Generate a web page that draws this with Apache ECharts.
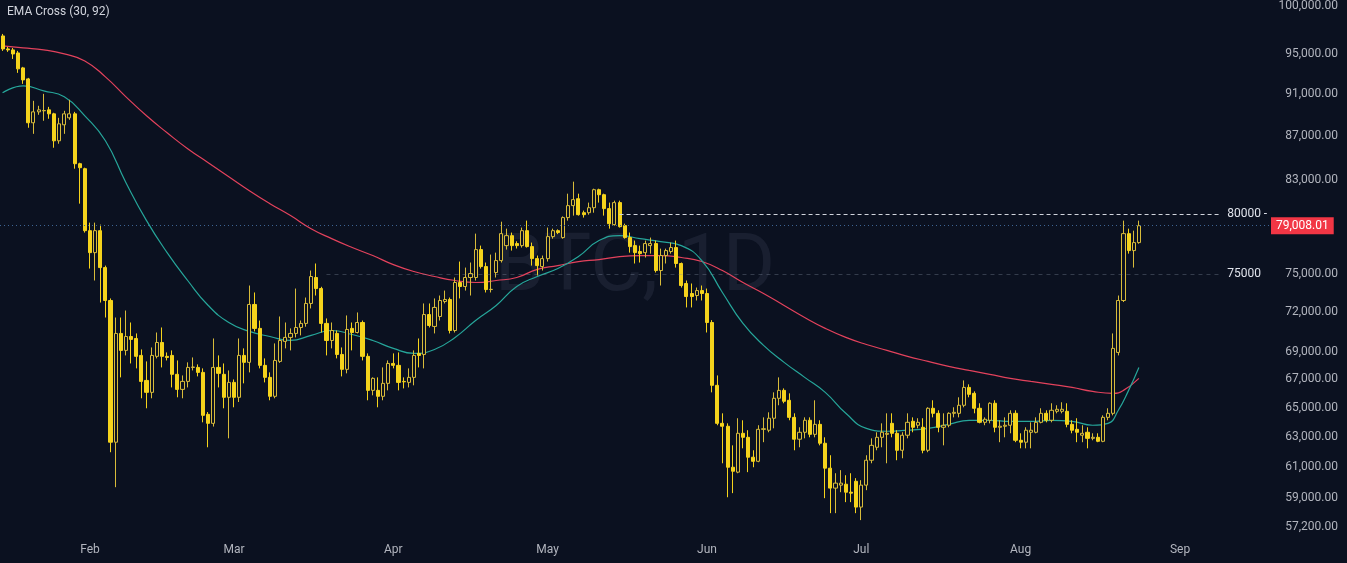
<!DOCTYPE html>
<html><head><meta charset="utf-8">
<script src="https://cdn.jsdelivr.net/npm/echarts@6/dist/echarts.min.js"></script>
<style>html,body{margin:0;padding:0;background:#0b1120;}#c{width:1347px;height:563px;}</style>
</head><body><div id="c"></div><script>
const startDate = '2026-01-15';
const dayCount = 247;
const monthNames = ['Jan','Feb','Mar','Apr','May','Jun','Jul','Aug','Sep','Oct','Nov','Dec'];
const yTicks = [57200, 59000, 61000, 63000, 65000, 67000, 69000, 72000, 75000, 83000, 87000, 91000, 95000, 100000];
const lastPrice = 79008.01;
const levelHigh = 80000;
const levelLow = 75000;
// [open, close, low, high]
const candles = [
[96840,95500,95300,97050],[95500,95400,95200,95700],[95400,94990,94480,95600],[95090,93480,93080,95300],
[93580,92380,91990,93680],[92480,88230,87760,92580],[88230,89270,87190,90330],[89270,89460,88990,89850],
[89370,89400,88420,91010],[89460,89080,88610,89750],[89080,86540,85900,89180],[86540,88130,86270,88700],
[88040,89080,87190,89370],[88700,89080,88510,90430],[89080,84440,83990,89270],[84440,84080,80900,84530],
[83990,78590,78430,84080],[78590,76760,75460,79270],[76760,78590,74500,79270],[78590,75540,72760,79100],
[75540,72920,71600,75700],[72920,62640,61970,73080],[62640,70390,59690,71600],[70390,69120,67150,71600],
[69120,70160,68750,72140],[70160,69940,68160,71220],[70010,68680,67800,70390],[68750,66860,65660,69190],
[66930,66080,64960,68310],[66080,68750,65660,69340],[68680,69710,68530,70460],[69710,68680,67870,70840],
[68680,68600,68380,68970],[68750,67370,66430,69120],[67370,66290,65730,68380],[66290,66860,65660,67290],
[66860,67870,66430,68240],[67870,67900,67650,68600],[67870,67510,67220,68090],[67510,64470,63990,67800],
[64540,63920,62300,64700],[63920,67870,63700,70010],[67870,67440,66430,68750],[67370,65730,64960,68160],
[65730,66790,62900,67650],[66790,65730,65030,67000],[65730,68750,65400,70010],[68750,68240,66720,69270],
[68240,72610,67510,74100],[72610,70770,70540,73550],[70770,68020,67800,71370],[68020,67150,66790,68530],
[67150,65800,65520,67510],[65800,68380,65660,69640],[68310,69860,68200,71680],[69790,70090,69270,71220],
[70090,70390,69120,70770],[70390,70840,70090,73860],[70840,71150,70240,71370],[71150,72690,70900,73150],
[72690,74820,72300,75300],[74740,73860,73310,75870],[73860,71150,70460,74000],[71150,69860,68750,71530],
[69860,70610,69270,71220],[70390,68820,68530,70610],[68820,67730,67220,69340],[67730,70690,67440,71760],
[70770,70460,69120,71220],[70460,71220,70390,71990],[71220,68680,68380,71370],[68680,66220,65520,68900],
[66220,67080,65870,67150],[66220,65800,65030,67150],[65800,66720,65520,67870],[66720,68160,66220,68380],
[68160,68020,67800,68900],[68020,66790,66220,68970],[66860,66830,66360,67150],[66790,67150,66430,67800],
[67150,68750,66580,69120],[68900,68750,67870,70010],[68820,71830,67800,72690],[71830,70990,70840,72690],
[70920,72380,70390,73080],[71680,72920,71370,73310],[72840,73000,72690,73700],[73000,70610,70390,73150],
[70610,74340,70460,74740],[74340,74020,73080,76030],[74020,74740,73700,75540],[74740,75060,73310,75950],
[74740,77010,74500,78340],[77010,75620,75460,77340],[75620,73780,73550,75950],[73780,73800,73550,76600],
[75140,76110,74740,76760],[76110,78340,75950,79350],[77340,78170,77010,78760],[78170,77340,76930,78430],
[77510,77340,77100,77700],[77340,78590,77180,78850],[78590,77260,77180,79440],[77260,76270,75700,77590],
[76270,75700,74900,76520],[75620,76270,75300,76520],[76270,78090,76030,78850],[78090,78590,77920,78760],
[78590,78430,78300,78700],[78010,79700,77920,79800],[79700,80730,79440,81770],[80730,81250,79870,82830],
[81330,79950,79870,81770],[80120,79950,79700,80300],[80120,80550,79950,80990],[80550,82120,80120,82210],
[82120,81680,80990,82210],[81680,80470,79870,81770],[80470,79180,78760,80990],[79100,80990,79020,81160],
[80990,78930,78850,81160],[79020,78010,77920,79180],[78010,77260,76760,78430],[77340,76760,75870,77760],
[76850,76680,75950,77340],[76760,77510,76360,77760],[77340,77510,76680,78010],[77510,75300,75140,77760],
[75300,76520,74100,77090],[76520,76930,75870,77090],[76850,77180,76680,77590],[77180,75870,75540,77760],
[75870,74100,73940,75950],[74260,73230,72380,74500],[73470,73230,72380,74260],[73310,73700,72920,73940],
[73700,73470,72920,74100],[73470,71220,70460,73860],[71220,66580,66080,71400],[66580,63920,63790,67290],
[63920,63720,61240,64610],[63720,60980,59050,63920],[60980,60720,59310,62430],[60660,63240,60590,64270],
[63240,62970,62230,64130],[62970,61640,60660,63450],[61640,61370,60980,62100],[61370,63510,61310,63790],
[63510,63550,62640,64330],[63450,64270,63310,64680],[64270,65660,63580,66080],[65660,66220,65170,67150],
[66220,65450,65310,66360],[65520,64330,64130,66010],[64330,62840,62100,64610],[62840,63310,62300,63650],
[63310,64130,62900,64330],[64130,63170,62970,64330],[63170,63850,62970,65520],[63850,62570,62430,64130],
[62570,60920,58990,62970],[60920,59630,58050,61770],[59630,59950,58050,60590],[59820,59950,59370,60790],
[59880,59370,58740,60460],[59370,59310,58740,60590],[60070,58430,58050,60270],[58430,59820,57620,60140],
[59820,61440,59500,61770],[61440,62430,61240,62900],[62300,62970,62100,63310],[62970,63310,62300,63920],
[63170,63240,61240,64610],[63920,63240,62970,64610],[63240,62100,61440,63450],[62100,63110,61570,63310],
[63110,63990,62900,64610],[64060,63650,63310,64330],[63790,63990,63580,64270],[63650,62100,61900,64270],
[62100,64960,61970,65030],[64960,64610,64330,65520],[64610,63650,63310,64820],[63650,63790,62430,64610],
[63790,64610,63650,64680],[64610,64680,64330,65030],[64610,65170,64330,65730],[65170,66430,65030,66930],
[66430,65940,65730,66650],[66010,64960,64610,66150],[64960,63990,63920,65310],[63990,64200,63790,64330],
[64130,65310,63920,65380],[65310,63650,63310,65520],[63650,63720,62640,64130],[63720,63790,62970,64330],
[63790,64610,63240,64820],[64610,62770,62640,64820],[62770,62640,62230,63240],[62640,63450,62230,63650],
[63310,63450,62230,63990],[63310,63990,63240,64330],[63990,64610,63920,64960],[64610,64130,63990,64820],
[64130,64820,63990,65310],[64750,64890,64610,65170],[64750,64890,64610,65380],[64750,63850,63650,65310],
[63850,63450,63240,64130],[63510,63310,62640,64270],[63110,63240,62640,63790],[63310,62900,62230,63650],
[62900,62970,62770,63240],[62970,62700,62640,63240],[62700,64330,62640,64470],[64330,64610,64130,64960],
[64610,69270,64470,70390],[68970,72920,68750,73310],[72920,78340,72800,79440],[78340,76930,76680,78760],
[76930,77590,75540,78590],[77590,79008.01,77500,79440]
];
// [day index, value]
const ema30Points = [
[0,91110],[4,91790],[8,91300],[12,90720],[16,88890],[20,86540],[24,82740],[28,79440],[32,76760],[36,74500],
[40,72530],[44,71220],[48,70540],[52,70160],[56,69860],[60,70240],[64,70610],[68,70310],[72,69860],[76,69270],
[80,68900],[84,69190],[88,70090],[92,71370],[96,72530],[100,74020],[104,74820],[108,75460],[112,76440],[116,77760],
[120,78170],[124,77920],[128,77670],[132,77340],[136,76110],[140,73550],[144,71150],[148,69490],[152,68240],[156,67150],
[160,66080],[164,64610],[168,63580],[172,63380],[176,63450],[180,63580],[184,63850],[188,64130],[192,64130],[196,64060],
[200,64060],[204,64130],[208,64060],[212,63790],[215,63920],[217,64820],[219,66220],[221,67870]
];
const ema92Points = [
[0,95810],[4,95600],[8,95400],[12,94990],[16,94280],[20,92680],[24,90720],[28,88890],[32,87290],[36,85810],
[40,84530],[44,83270],[48,82030],[52,80900],[56,79870],[60,78760],[64,77920],[68,77180],[72,76520],[76,75780],
[80,75220],[84,74820],[88,74500],[92,74340],[96,74500],[100,74740],[104,75400],[108,75700],[112,76030],[116,76190],
[120,76440],[124,76520],[128,76520],[132,76360],[136,76030],[140,75300],[144,74340],[148,73470],[152,72530],[156,71600],
[160,70770],[164,70090],[168,69560],[172,69120],[176,68680],[180,68310],[184,67950],[188,67650],[192,67370],[196,67080],
[200,66860],[204,66650],[208,66430],[212,66150],[216,66010],[218,66220],[221,67080]
];

const dates = [];
const d0 = new Date(startDate + 'T00:00:00Z');
for (let i = 0; i < dayCount; i++) {
  const d = new Date(d0.getTime() + i * 86400000);
  dates.push(d.toISOString().slice(0, 10));
}
function fmtPrice(v) {
  const s = Math.round(v).toString().replace(/\B(?=(\d{3})+(?!\d))/g, ',');
  return s + '.00';
}
const BG = '#0b1120';
const FONT = 'Roboto';
const chart = echarts.init(document.getElementById('c'), null, {renderer: 'canvas'});
chart.setOption({
  backgroundColor: BG,
  animation: false,
  textStyle: {fontFamily: FONT},
  grid: {left: 0, right: 77, top: 0, bottom: 26},
  graphic: [
    {type: 'text', left: 7, top: 6, style: {text: 'EMA Cross (30, 92)', fill: '#d1d4dc', font: '12px Roboto'}},
    {type: 'text', x: 635, y: 270, z: 0, style: {text: 'BTC, 1D', fill: 'rgba(125,135,165,0.13)', font: '80px Roboto', align: 'center', verticalAlign: 'middle'}}
  ],
  xAxis: {
    type: 'category', data: dates, boundaryGap: true,
    axisLine: {show: false}, axisTick: {show: false}, splitLine: {show: false},
    axisLabel: {
      color: '#b2b5be', fontSize: 12, margin: 7,
      interval: (idx, val) => val.slice(8) === '01',
      formatter: val => monthNames[+val.slice(5, 7) - 1]
    }
  },
  yAxis: {
    type: 'log', logBase: 10, position: 'right', min: 56585, max: 100535,
    axisLine: {show: false}, axisTick: {show: false}, splitLine: {show: false},
    axisLabel: {color: '#b2b5be', fontSize: 12, align: 'right', margin: 68, customValues: yTicks, formatter: v => fmtPrice(v)}
  },
  series: [
    {
      type: 'line', name: 'EMA 92', data: ema92Points, smooth: true, showSymbol: false, connectNulls: true,
      lineStyle: {color: '#e3425c', width: 1.2}, z: 2
    },
    {
      type: 'line', name: 'EMA 30', data: ema30Points, smooth: true, showSymbol: false, connectNulls: true,
      lineStyle: {color: '#26a69a', width: 1.2}, z: 2
    },
    {
      type: 'candlestick', name: 'BTC', data: candles, barWidth: '70%', z: 3,
      itemStyle: {color: BG, color0: '#f5d31c', borderColor: '#d8bb3a', borderColor0: '#f5d31c', borderWidth: 1},
      markLine: {
        silent: true, symbol: ['none', 'none'], animation: false,
        data: [
          {yAxis: lastPrice, lineStyle: {color: '#3d6493', type: [1, 3], width: 1},
           label: {position: 'end', distance: 1, formatter: '79,008.01', color: '#ffffff', backgroundColor: '#f23645', padding: [3, 5, 2, 5], fontSize: 12, fontFamily: FONT}},
          [
            {coord: [dates[120], levelHigh], lineStyle: {color: '#d1d4dc', type: [4, 3], width: 1},
             label: {position: 'end', distance: 6, formatter: '80000 -', color: '#e0e3eb', fontSize: 12, fontFamily: FONT}},
            {coord: [dates[237], levelHigh]}
          ],
          [
            {coord: [dates[63], levelLow], lineStyle: {color: 'rgba(130,140,160,0.35)', type: [4, 4], width: 1},
             label: {position: 'end', distance: 6, formatter: '75000', color: '#e0e3eb', fontSize: 12, fontFamily: FONT}},
            {coord: [dates[237], levelLow]}
          ]
        ]
      }
    }
  ]
});
</script></body></html>
